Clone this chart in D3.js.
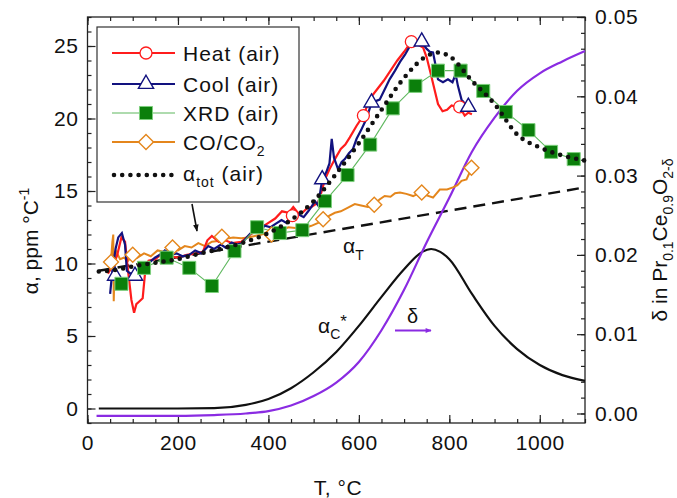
<!DOCTYPE html>
<html>
<head>
<meta charset="utf-8">
<script src="https://cdn.jsdelivr.net/npm/d3@7"></script>
<style>
  body { margin: 0; background: #fff; }
  svg text { font-family: "Liberation Sans", Arial, sans-serif; fill: #111; }
</style>
</head>
<body>
<svg id="chart" width="677" height="498"></svg>
<script>
// data: [T in degC, value]
var heat = [[45,9.3],[55,9.8],[65,10.5],[75,11.8],[83,11.5],[90,9.4],[97,7.5],[103,6.6],[108,7.2],[115,7.4],[122,7.6],[128,9.6],[135,10.2],[150,10.3],[165,10.7],[180,10.5],[200,10.4],[220,10.6],[240,10.7],[255,10.8],[265,11.6],[275,11.9],[290,11.5],[305,11.6],[320,11.4],[340,11.5],[360,12.0],[380,12.4],[400,12.8],[415,13.1],[430,13.6],[445,13.5],[455,13.9],[465,13.5],[475,13.5],[485,13.8],[495,13.9],[510,14.2],[517,14.9],[525,15.8],[535,16.5],[547,17.2],[560,17.9],[570,18.2],[580,18.7],[595,19.5],[610,20.2],[625,21.4],[640,22.0],[655,22.6],[670,23.3],[685,24.0],[700,24.6],[716,25.3],[730,25.1],[742,24.9],[750,24.2],[758,23.2],[765,22.3],[775,21.0],[785,20.5],[795,20.6],[805,20.9],[815,20.8],[823,20.8],[834,20.2],[842,20.4],[850,20.3]];
var heatMarks = [[453,13.3],[610,20.2],[716,25.3],[823,20.8]];

var cool = [[50,7.9],[55,9.5],[62,11.0],[68,11.8],[76,12.1],[83,11.3],[87,9.5],[95,9.3],[105,9.4],[115,9.6],[127,9.8],[138,10.1],[149,10.4],[160,10.6],[171,10.9],[185,10.6],[197,10.7],[210,10.5],[225,10.6],[238,10.9],[252,10.7],[267,11.2],[280,11.0],[295,11.3],[305,11.1],[319,11.45],[330,11.3],[341,11.4],[355,11.9],[370,12.4],[380,12.3],[392,12.6],[405,12.5],[414,12.7],[429,13.0],[440,12.8],[447,13.2],[457,13.0],[466,13.4],[478,13.2],[488,13.6],[495,13.9],[503,14.3],[510,14.0],[519,15.8],[528,16.3],[535,16.9],[540,18.6],[545,17.3],[554,16.5],[562,17.0],[569,17.2],[578,17.6],[587,17.9],[595,18.6],[605,19.2],[617,20.0],[628,21.1],[637,21.2],[646,21.3],[657,22.0],[668,22.7],[680,23.3],[691,23.9],[702,24.4],[713,25.0],[725,25.1],[739,25.25],[750,24.8],[757,24.6],[764,24.55],[770,23.6],[775,22.7],[786,22.5],[797,22.7],[807,22.5],[814,23.05],[819,22.25],[827,21.3],[835,21.0],[842,20.8]];
var coolMarks = [[61,9.15],[105,9.15],[519,15.8],[628,21.1],[739,25.3],[842,20.8]];

var xrd = [[75,8.6],[125,9.7],[175,10.4],[225,9.7],[275,8.45],[325,10.85],[375,12.5],[425,12.1],[475,12.3],[525,14.3],[575,16.1],[625,18.2],[675,20.7],[725,22.25],[775,23.3],[825,23.3],[875,21.9],[925,20.45],[975,19.2],[1025,17.7],[1075,17.2]];

var coco2 = [[52,10.2],[55,11.5],[57,12.0],[58,7.4],[60,9.8],[64,10.8],[72,10.3],[80,10.4],[90,10.2],[100,10.6],[110,10.4],[125,10.7],[140,10.5],[155,10.9],[170,10.8],[185,11.0],[200,10.9],[215,11.2],[230,11.1],[245,11.4],[260,11.2],[275,11.5],[289,11.55],[305,11.7],[322,11.8],[340,11.75],[355,11.8],[370,11.9],[385,12.0],[400,12.2],[414,12.35],[430,12.3],[444,12.5],[460,12.45],[473,12.55],[485,12.5],[495,12.6],[510,12.8],[521,13.0],[535,13.3],[547,13.5],[560,13.6],[576,13.86],[591,14.1],[605,14.0],[620,13.9],[635,14.0],[645,14.4],[657,14.66],[670,14.6],[680,14.85],[691,14.9],[705,14.8],[720,14.65],[730,14.8],[739,14.9],[750,14.7],[764,14.55],[779,15.1],[795,15.1],[808,15.25],[818,15.4],[827,15.7],[838,15.8],[848,16.5]];
var cocoMarks = [[52,10.1],[100,10.6],[188,11.1],[297,11.85],[407,12.0],[521,13.05],[634,14.05],[739,14.9],[849,16.6]];

var alphaTot = [[25,9.45],[50,9.5],[100,9.8],[150,10.05],[200,10.3],[250,10.7],[300,11.05],[350,11.5],[400,12.1],[450,13.0],[500,14.3],[550,16.2],[600,18.3],[650,20.6],[700,22.8],[750,24.3],[775,24.55],[800,24.3],[850,22.6],[900,21.0],[950,18.9],[1000,18.0],[1050,17.45],[1100,17.1]];
var alphaT = [[25,9.5],[1100,15.25]];
var alphaC = [[25,0],[100,0],[200,0],[280,0.02],[350,0.25],[400,0.65],[450,1.4],[500,2.5],[550,3.9],[600,5.7],[650,7.7],[700,9.6],[740,10.8],[760,11.0],[780,10.8],[800,10.3],[850,7.9],[900,5.7],[950,4.1],[1000,3.0],[1050,2.3],[1100,1.9]];
var delta = [[20,-0.0003],[100,-0.0003],[200,-0.0003],[280,-0.0002],[350,0.0],[400,0.0003],[450,0.0010],[500,0.0022],[550,0.0039],[600,0.0065],[650,0.0105],[700,0.0156],[750,0.0216],[800,0.0272],[850,0.0330],[900,0.0373],[950,0.0407],[1000,0.0429],[1050,0.0444],[1100,0.0457]];

var xMajor = [0,200,400,600,800,1000];
var yLMajor = [0,5,10,15,20,25];
var yRMajor = [0,0.01,0.02,0.03,0.04,0.05];

var red = "#ff1c1c", blue = "#12127f", greenLine = "#5fb85f", greenFill = "#0b7f0b",
    orange = "#e4861c", purple = "#8a2be2";

var svg = d3.select("#chart");
var L = 87.5, R = 585, T = 17, B = 423;

var x = d3.scaleLinear().domain([0, 1100]).range([L, R]);
var yL = d3.scaleLinear().domain([-1, 27]).range([B, T]);
var yR = d3.scaleLinear().domain([-0.0012, 0.05]).range([B, T]);

function minorTicks(a, b, step) { return d3.range(a, b + step / 2, step); }

// axes (ticks point inward)
svg.append("g").attr("transform", "translate(0," + B + ")")
  .call(d3.axisBottom(x).tickValues(minorTicks(0, 1100, 50)).tickSizeInner(-4).tickSizeOuter(0).tickFormat(""));
svg.append("g").attr("transform", "translate(0," + B + ")")
  .call(d3.axisBottom(x).tickValues(xMajor).tickSizeInner(-8).tickSizeOuter(0).tickPadding(12).tickFormat(d3.format("d")));
svg.append("g").attr("transform", "translate(0," + T + ")")
  .call(d3.axisTop(x).tickValues(minorTicks(0, 1100, 50)).tickSizeInner(-4).tickSizeOuter(0).tickFormat(""));
svg.append("g").attr("transform", "translate(0," + T + ")")
  .call(d3.axisTop(x).tickValues(xMajor).tickSizeInner(-8).tickSizeOuter(0).tickFormat(""));

svg.append("g").attr("transform", "translate(" + L + ",0)")
  .call(d3.axisLeft(yL).tickValues(minorTicks(-1, 27, 1)).tickSizeInner(-4).tickSizeOuter(0).tickFormat(""));
svg.append("g").attr("transform", "translate(" + L + ",0)")
  .call(d3.axisLeft(yL).tickValues(yLMajor).tickSizeInner(-8).tickSizeOuter(0).tickPadding(9));

svg.append("g").attr("transform", "translate(" + R + ",0)")
  .call(d3.axisRight(yR).tickValues(minorTicks(0, 0.05, 0.002)).tickSizeInner(-4).tickSizeOuter(0).tickFormat(""));
svg.append("g").attr("transform", "translate(" + R + ",0)")
  .call(d3.axisRight(yR).tickValues(yRMajor).tickSizeInner(-8).tickSizeOuter(0).tickPadding(10).tickFormat(d3.format(".2f")));

svg.selectAll(".domain").remove();
svg.selectAll(".tick line").attr("stroke", "#222").attr("stroke-width", 1.2);
svg.selectAll(".tick text").attr("font-size", 21).attr("letter-spacing", 0.6)
  .attr("font-family", "Liberation Sans, Arial, sans-serif").attr("fill", "#111");

svg.append("rect").attr("x", L).attr("y", T).attr("width", R - L).attr("height", B - T)
  .attr("fill", "none").attr("stroke", "#222").attr("stroke-width", 1.3);

// lines
var lineL = d3.line().x(function(d) { return x(d[0]); }).y(function(d) { return yL(d[1]); });
var smoothL = d3.line().curve(d3.curveMonotoneX).x(function(d) { return x(d[0]); }).y(function(d) { return yL(d[1]); });
var smoothR = d3.line().curve(d3.curveMonotoneX).x(function(d) { return x(d[0]); }).y(function(d) { return yR(d[1]); });

var plot = svg.append("g");
plot.append("path").datum(alphaT).attr("d", lineL).attr("fill", "none").attr("stroke", "#111")
  .attr("stroke-width", 2.4).attr("stroke-dasharray", "12,7");
plot.append("path").datum(alphaC).attr("d", smoothL).attr("fill", "none").attr("stroke", "#111").attr("stroke-width", 2.2);
plot.append("path").datum(delta).attr("d", smoothR).attr("fill", "none").attr("stroke", purple).attr("stroke-width", 2.2);

plot.append("path").datum(coco2).attr("d", lineL).attr("fill", "none").attr("stroke", orange).attr("stroke-width", 2);
plot.append("path").datum(heat).attr("d", lineL).attr("fill", "none").attr("stroke", red).attr("stroke-width", 2.2);
plot.append("path").datum(cool).attr("d", lineL).attr("fill", "none").attr("stroke", blue).attr("stroke-width", 2.2);
plot.append("path").datum(xrd).attr("d", lineL).attr("fill", "none").attr("stroke", greenLine).attr("stroke-width", 1.1);

var diamond = d3.symbol().type(d3.symbolSquare).size(112);
var tri = d3.symbol().type(d3.symbolTriangle).size(100);
var sq = d3.symbol().type(d3.symbolSquare).size(170);

plot.selectAll(".dia").data(cocoMarks).join("path").attr("class", "dia").attr("d", diamond)
  .attr("transform", function(d) { return "translate(" + x(d[0]) + "," + yL(d[1]) + ") rotate(45)"; })
  .attr("fill", "#fff").attr("stroke", orange).attr("stroke-width", 1.4);
plot.selectAll(".circ").data(heatMarks).join("circle").attr("class", "circ")
  .attr("cx", function(d) { return x(d[0]); }).attr("cy", function(d) { return yL(d[1]); }).attr("r", 6)
  .attr("fill", "#fff").attr("stroke", red).attr("stroke-width", 1.3);
plot.selectAll(".tri").data(coolMarks).join("path").attr("class", "tri").attr("d", tri)
  .attr("transform", function(d) { return "translate(" + x(d[0]) + "," + yL(d[1]) + ")"; })
  .attr("fill", "#fff").attr("stroke", blue).attr("stroke-width", 1.4);
plot.selectAll(".sq").data(xrd).join("path").attr("class", "sq").attr("d", sq)
  .attr("transform", function(d) { return "translate(" + x(d[0]) + "," + yL(d[1]) + ")"; })
  .attr("fill", greenFill).attr("stroke", "#7ccf7c").attr("stroke-width", 1);

plot.append("path").datum(alphaTot).attr("d", smoothL).attr("fill", "none").attr("stroke", "#111")
  .attr("stroke-width", 4.6).attr("stroke-linecap", "round").attr("stroke-dasharray", "0,8.2");

// legend
var lg = svg.append("g");
lg.append("rect").attr("x", 97).attr("y", 27).attr("width", 202).attr("height", 175)
  .attr("fill", "#fff").attr("stroke", "#333").attr("stroke-width", 1.2);
var rows = [53, 84, 113, 142, 175];
var lx0 = 112, lx1 = 175, lm = 146, tx = 183;
lg.append("line").attr("x1", lx0).attr("x2", lx1).attr("y1", rows[0]).attr("y2", rows[0]).attr("stroke", red).attr("stroke-width", 2.2);
lg.append("circle").attr("cx", lm).attr("cy", rows[0]).attr("r", 6).attr("fill", "#fff").attr("stroke", red).attr("stroke-width", 1.3);
lg.append("line").attr("x1", lx0).attr("x2", lx1).attr("y1", rows[1]).attr("y2", rows[1]).attr("stroke", blue).attr("stroke-width", 2.2);
lg.append("path").attr("d", tri).attr("transform", "translate(" + lm + "," + rows[1] + ")").attr("fill", "#fff").attr("stroke", blue).attr("stroke-width", 1.4);
lg.append("line").attr("x1", lx0).attr("x2", lx1).attr("y1", rows[2]).attr("y2", rows[2]).attr("stroke", greenLine).attr("stroke-width", 1.1);
lg.append("path").attr("d", sq).attr("transform", "translate(" + lm + "," + rows[2] + ")").attr("fill", greenFill).attr("stroke", "#7ccf7c");
lg.append("line").attr("x1", lx0).attr("x2", lx1).attr("y1", rows[3]).attr("y2", rows[3]).attr("stroke", orange).attr("stroke-width", 2);
lg.append("path").attr("d", diamond).attr("transform", "translate(" + lm + "," + rows[3] + ") rotate(45)").attr("fill", "#fff").attr("stroke", orange).attr("stroke-width", 1.4);
lg.append("line").attr("x1", lx0 + 2).attr("x2", lx1).attr("y1", rows[4]).attr("y2", rows[4]).attr("stroke", "#111")
  .attr("stroke-width", 4.6).attr("stroke-linecap", "round").attr("stroke-dasharray", "0,8.2");

var fs = 21;
lg.append("text").attr("x", tx).attr("y", rows[0] + 7.5).attr("font-size", fs).attr("letter-spacing", 1).text("Heat (air)");
lg.append("text").attr("x", tx).attr("y", rows[1] + 7.5).attr("font-size", fs).attr("letter-spacing", 1).text("Cool (air)");
lg.append("text").attr("x", tx).attr("y", rows[2] + 7.5).attr("font-size", fs).attr("letter-spacing", 1).text("XRD (air)");
var t4 = lg.append("text").attr("x", tx).attr("y", rows[3] + 7.5).attr("font-size", fs).attr("letter-spacing", 1);
t4.append("tspan").text("CO/CO");
t4.append("tspan").attr("font-size", 14).attr("dy", 6).text("2");
var t5 = lg.append("text").attr("x", tx).attr("y", rows[4] + 6).attr("font-size", fs).attr("letter-spacing", 1);
t5.append("tspan").text("α");
t5.append("tspan").attr("font-size", 14).attr("dy", 6).text("tot");
t5.append("tspan").attr("dy", -6).text(" (air)");

// annotations
var defs = svg.append("defs");
defs.append("marker").attr("id", "ahK").attr("viewBox", "0 0 10 10").attr("refX", 9).attr("refY", 5)
  .attr("markerWidth", 9).attr("markerHeight", 7).attr("markerUnits", "userSpaceOnUse").attr("orient", "auto")
  .append("path").attr("d", "M0,1 L10,5 L0,9 Z").attr("fill", "#111");
defs.append("marker").attr("id", "ahP").attr("viewBox", "0 0 10 10").attr("refX", 9).attr("refY", 5)
  .attr("markerWidth", 9).attr("markerHeight", 6).attr("markerUnits", "userSpaceOnUse").attr("orient", "auto")
  .append("path").attr("d", "M0,1 L10,5 L0,9 Z").attr("fill", purple);

svg.append("line").attr("x1", 192).attr("y1", 204).attr("x2", 197).attr("y2", 231)
  .attr("stroke", "#111").attr("stroke-width", 1.6).attr("marker-end", "url(#ahK)");
svg.append("line").attr("x1", 395).attr("y1", 330.5).attr("x2", 431).attr("y2", 330.5)
  .attr("stroke", purple).attr("stroke-width", 2).attr("marker-end", "url(#ahP)");

var aT = svg.append("text").attr("x", 343).attr("y", 253).attr("font-size", 21);
aT.append("tspan").text("α");
aT.append("tspan").attr("font-size", 14).attr("dy", 7).text("T");
var aC = svg.append("text").attr("x", 318).attr("y", 333).attr("font-size", 21);
aC.append("tspan").text("α");
aC.append("tspan").attr("font-size", 14).attr("dy", 6).text("C");
aC.append("tspan").attr("font-size", 17).attr("dy", -12).text("*");
svg.append("text").attr("x", 407).attr("y", 323).attr("font-size", 20)
  .attr("font-family", "Liberation Serif, Times New Roman, serif").text("δ");

// axis titles
svg.append("text").attr("x", 338).attr("y", 495).attr("text-anchor", "middle").attr("font-size", 21).attr("letter-spacing", 0.6).text("T, °C");
var yl = svg.append("text").attr("transform", "translate(38,241) rotate(-90)").attr("text-anchor", "middle").attr("font-size", 21);
yl.append("tspan").text("α, ppm °C");
yl.append("tspan").attr("font-size", 14).attr("dy", -9).text("-1");
var yr = svg.append("text").attr("transform", "translate(667,240) rotate(-90)").attr("text-anchor", "middle").attr("font-size", 21);
yr.append("tspan").text("δ in Pr");
yr.append("tspan").attr("font-size", 14).attr("dy", 6).text("0.1");
yr.append("tspan").attr("dy", -6).text("Ce");
yr.append("tspan").attr("font-size", 14).attr("dy", 6).text("0.9");
yr.append("tspan").attr("dy", -6).text("O");
yr.append("tspan").attr("font-size", 14).attr("dy", 6).text("2-δ");
</script>
</body>
</html>
